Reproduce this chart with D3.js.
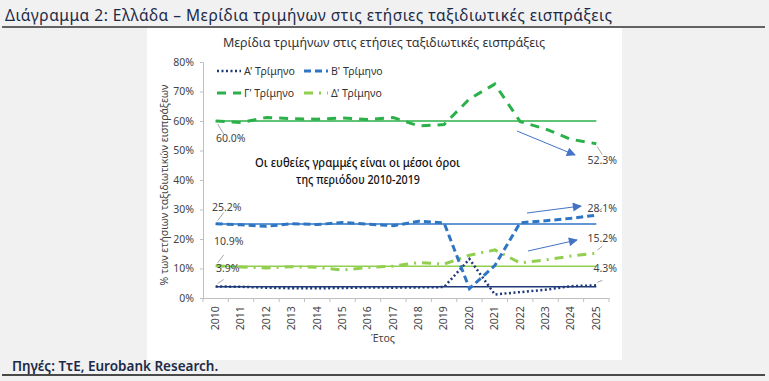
<!DOCTYPE html>
<html>
<head>
<meta charset="utf-8">
<script src="https://cdn.jsdelivr.net/npm/d3@7"></script>
<style>
  body { margin: 0; background: #f1f1f1; }
  svg { display: block; }
</style>
</head>
<body>
<svg id="svg"></svg>
<script>
let svg = d3.select("#svg");
const width = 769;
const height = 381;

// data
const years = ["2010","2011","2012","2013","2014","2015","2016","2017","2018","2019","2020","2021","2022","2023","2024","2025"];
const q1 = [3.9, 3.8, 3.5, 3.3, 3.3, 3.4, 3.6, 3.5, 3.6, 3.7, 13.2, 1.2, 2.0, 2.8, 4.0, 4.3];
const q2 = [25.2, 24.8, 24.3, 25.2, 24.9, 25.6, 25.0, 24.5, 26.0, 25.5, 3.2, 11.0, 25.5, 26.2, 27.0, 28.1];
const q3 = [60.0, 59.5, 61.2, 60.8, 60.6, 61.0, 60.5, 61.2, 58.3, 58.8, 67.5, 72.5, 59.8, 57.3, 53.8, 52.3];
const q4 = [10.9, 10.5, 10.2, 10.6, 10.4, 9.5, 10.3, 10.8, 12.0, 11.5, 14.5, 16.3, 11.9, 12.9, 14.2, 15.2];
const means = [3.8, 25.1, 60.0, 10.8];
const yTicks = [0, 10, 20, 30, 40, 50, 60, 70, 80];

const seriesNames = ["Α' Τρίμηνο", "Β' Τρίμηνο", "Γ' Τρίμηνο", "Δ' Τρίμηνο"];
const colors = ["#1f3a78", "#2e75c4", "#2bb04a", "#92cf4f"];
const dashes = ["2,2.5", "7,4", "9,7", "9,6,2,6"];
const widths = [2.5, 3, 3, 3];

const font = "'Noto Sans', sans-serif";

svg.attr("width", width).attr("height", height);

// page header
svg.append("rect").attr("width", width).attr("height", height).attr("fill", "#f1f1f1");
svg.append("line").attr("x1", 2).attr("x2", 765).attr("y1", 27).attr("y2", 27)
    .attr("stroke", "#333").attr("stroke-width", 1.5);
svg.append("text")
    .attr("x", 5).attr("y", 21)
    .attr("textLength", 607)
    .style("font-family", font).style("font-size", "15.5px")
    .style("fill", "#1c2a48")
    .text("Διάγραμμα 2: Ελλάδα – Μερίδια τριμήνων στις ετήσιες ταξιδιωτικές εισπράξεις");

// white chart box
svg.append("rect").attr("x", 147).attr("y", 28).attr("width", 475).attr("height", 332).attr("fill", "white");

// footer
svg.append("line").attr("x1", 2).attr("x2", 765).attr("y1", 375).attr("y2", 375)
    .attr("stroke", "#111").attr("stroke-width", 1.5);
svg.append("text")
    .attr("x", 12).attr("y", 371)
    .style("font-family", font).style("font-size", "13.5px").style("font-weight", 600)
    .style("fill", "#1c2a48")
    .text("Πηγές: ΤτΕ, Eurobank Research.");

const margin = { top: 62, left: 203 };
const chartWidth = 406;
const chartHeight = 236;

let chart = svg.append("g")
    .attr("transform", "translate(" + margin.left + "," + margin.top + ")");

let xScale = d3.scaleBand()
    .domain(years)
    .range([0, chartWidth]);

let yScale = d3.scaleLinear()
    .domain([0, 80])
    .range([chartHeight, 0]);

const xc = d => xScale(d) + xScale.bandwidth() / 2;

// y-axis
let yAxis = chart.append("g")
    .call(d3.axisLeft(yScale).tickValues(yTicks).tickFormat(d => d + "%").tickSize(3).tickPadding(6));
yAxis.select(".domain").attr("stroke", "#bfbfbf");
yAxis.selectAll(".tick line").attr("stroke", "#bfbfbf");
yAxis.selectAll("text").style("font-family", font).style("font-size", "10.5px").style("fill", "#444");

// x-axis with ticks between categories
let xAxis = chart.append("g")
    .attr("transform", "translate(0," + chartHeight + ")")
    .call(d3.axisBottom(xScale).tickSize(0).tickPadding(4));
xAxis.select(".domain").attr("stroke", "#bfbfbf");
xAxis.selectAll("text")
    .attr("text-anchor", "end")
    .attr("dx", "-0.4em")
    .attr("dy", "0.32em")
    .attr("x", 0).attr("y", 0)
    .attr("transform", "translate(0,4) rotate(-90)")
    .style("font-family", font).style("font-size", "10.5px").style("fill", "#444");
chart.selectAll(".sep")
    .data(years.concat(["end"]))
    .enter().append("line")
    .attr("x1", (d, i) => i * xScale.step())
    .attr("x2", (d, i) => i * xScale.step())
    .attr("y1", chartHeight).attr("y2", chartHeight + 4)
    .attr("stroke", "#bfbfbf");

// mean lines
const allSeries = [q1, q2, q3, q4];
means.forEach((m, i) => {
    chart.append("line")
        .attr("x1", xc(years[0])).attr("x2", xc(years[years.length - 1]))
        .attr("y1", yScale(m)).attr("y2", yScale(m))
        .attr("stroke", colors[i]).attr("stroke-width", 1.5);
});

// series lines, draw order Q4, Q3, Q1, Q2
[3, 2, 0, 1].forEach(i => {
    const line = d3.line()
        .x((d, j) => xc(years[j]))
        .y(d => yScale(d));
    chart.append("path")
        .datum(allSeries[i])
        .attr("d", line)
        .attr("fill", "none")
        .attr("stroke", colors[i])
        .attr("stroke-width", widths[i])
        .attr("stroke-dasharray", dashes[i]);
});

// value labels with leader lines
const labelStyle = sel => sel.style("font-family", font).style("font-size", "10.5px").style("fill", "#444");
const leftLabels = [
    { s: 2, dx: 12, dy: 16, tx: 228, ty: 142 },
    { s: 1, dx: 12, dy: -14, tx: 224, ty: 211 },
    { s: 3, dx: 12, dy: -14, tx: 226, ty: 245 },
    { s: 0, dx: 12, dy: -10, tx: 228, ty: 272 }
];
leftLabels.forEach(l => {
    const px = xc(years[0]) + margin.left;
    const py = yScale(allSeries[l.s][0]) + margin.top;
    svg.append("line")
        .attr("x1", px + 2).attr("y1", py + (l.dy > 0 ? 3 : -3))
        .attr("x2", px + l.dx - 4).attr("y2", py + l.dy - (l.dy > 0 ? 3 : -3))
        .attr("stroke", "#a6a6a6").attr("stroke-width", 1);
    svg.append("text").attr("x", l.tx - 12).attr("y", l.ty)
        .call(labelStyle)
        .text(allSeries[l.s][0].toFixed(1) + "%");
});
const rightLabels = [
    { s: 2, dy: 16, ty: 164 },
    { s: 1, dy: -12, ty: 212 },
    { s: 3, dy: -12, ty: 242 },
    { s: 0, dy: -10, ty: 272 }
];
rightLabels.forEach(l => {
    const n = years.length - 1;
    const px = xc(years[n]) + margin.left;
    const py = yScale(allSeries[l.s][n]) + margin.top;
    svg.append("line")
        .attr("x1", px + 1).attr("y1", py + (l.dy > 0 ? 3 : -3))
        .attr("x2", px + 6).attr("y2", py + l.dy - (l.dy > 0 ? 5 : -5))
        .attr("stroke", "#a6a6a6").attr("stroke-width", 1);
    svg.append("text").attr("x", 617).attr("y", l.ty)
        .attr("text-anchor", "end")
        .call(labelStyle)
        .text(allSeries[l.s][n].toFixed(1) + "%");
});

// arrows
svg.append("defs").append("marker")
    .attr("id", "arrow")
    .attr("viewBox", "0 0 10 10")
    .attr("refX", 9).attr("refY", 5)
    .attr("markerWidth", 11).attr("markerHeight", 9)
    .attr("markerUnits", "userSpaceOnUse")
    .attr("orient", "auto")
    .append("path").attr("d", "M0,0 L10,5 L0,10 Z").attr("fill", "#4472c4");
const arrows = [[517, 131, 575, 155], [527, 213, 581, 206], [528, 251, 577, 240]];
svg.selectAll(".arrow")
    .data(arrows)
    .enter().append("line")
    .attr("x1", d => d[0]).attr("y1", d => d[1])
    .attr("x2", d => d[2]).attr("y2", d => d[3])
    .attr("stroke", "#4472c4").attr("stroke-width", 1)
    .attr("marker-end", "url(#arrow)");

// annotation
svg.append("text").attr("x", 255).attr("y", 167)
    .attr("textLength", 205).attr("lengthAdjust", "spacingAndGlyphs")
    .style("font-family", font).style("font-size", "13px").style("font-weight", 500).style("fill", "#111")
    .text("Οι ευθείες γραμμές είναι οι μέσοι όροι");
svg.append("text").attr("x", 296).attr("y", 184)
    .attr("textLength", 124).attr("lengthAdjust", "spacingAndGlyphs")
    .style("font-family", font).style("font-size", "13px").style("font-weight", 500).style("fill", "#111")
    .text("της περιόδου 2010-2019");

// chart title
svg.append("text").attr("x", 384).attr("y", 47).attr("text-anchor", "middle")
    .style("font-family", font).style("font-size", "12.5px").style("fill", "#333")
    .text("Μερίδια τριμήνων στις ετήσιες ταξιδιωτικές εισπράξεις");

// axis titles
svg.append("text").attr("text-anchor", "middle")
    .attr("transform", "translate(168,185) rotate(-90)")
    .style("font-family", font).style("font-size", "10.5px").style("fill", "#444")
    .text("% των ετήσιων ταξιδιωτικών εισπράξεων");
svg.append("text").attr("x", 383).attr("y", 342).attr("text-anchor", "middle")
    .style("font-family", font).style("font-size", "10.5px").style("fill", "#444")
    .text("Έτος");

// legend
const legendPos = [[217, 71], [304, 71], [217, 93], [304, 93]];
seriesNames.forEach((name, i) => {
    const g = svg.append("g").attr("transform", "translate(" + legendPos[i][0] + "," + legendPos[i][1] + ")");
    g.append("line").attr("x1", 0).attr("x2", 24).attr("y1", 0).attr("y2", 0)
        .attr("stroke", colors[i]).attr("stroke-width", widths[i])
        .attr("stroke-dasharray", dashes[i]);
    g.append("text").attr("x", 27).attr("y", 0).attr("dy", "0.35em")
        .style("font-family", font).style("font-size", "10.5px").style("fill", "#333")
        .text(name);
});
</script>
</body>
</html>
